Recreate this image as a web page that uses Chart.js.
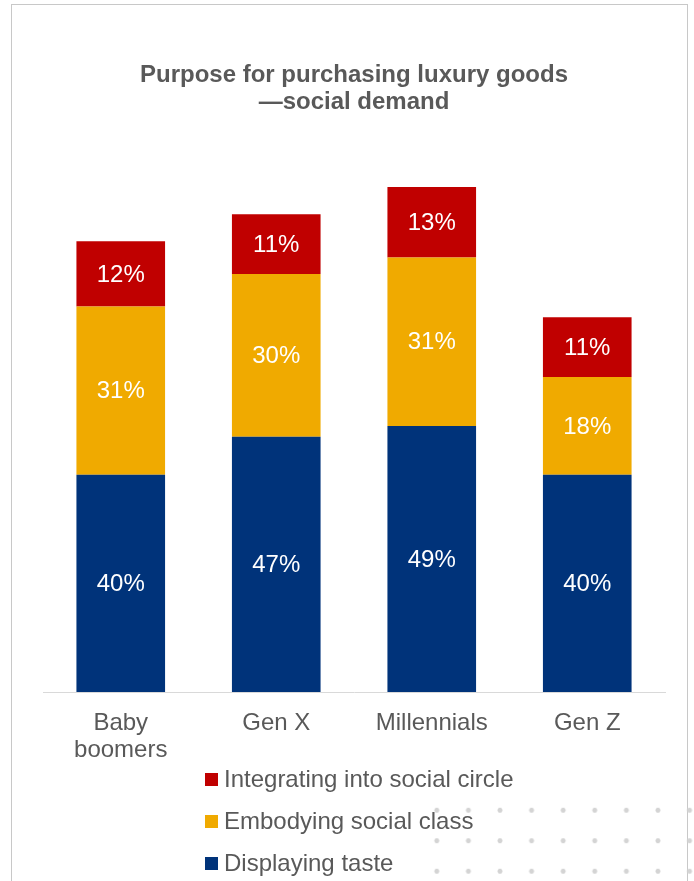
<!DOCTYPE html>
<html>
<head>
<meta charset="utf-8">
<script src="https://cdn.jsdelivr.net/npm/chart.js@4"></script>
<style>
    body { margin: 0; background: #fff; font-family: 'Liberation Sans', Arial, sans-serif; }
    #wrap { position: relative; width: 694px; height: 881px; overflow: hidden; }
    #frame { position: absolute; left: 11px; top: 4px; width: 675px; height: 900px; border: 1px solid #c8c8c8; }
    #dots {
        position: absolute; left: 421px; top: 795px; width: 290px; height: 92px;
        background-image: radial-gradient(circle, #d4d4d4 2.2px, transparent 2.8px);
        background-size: 31.6px 30.5px;
    }
    #chart { position: absolute; left: 0; top: 0; }
    #legend { position: absolute; left: 205px; top: 766px; }
    .legend-item { display: flex; align-items: center; height: 26px; margin-bottom: 16px; font-size: 24px; color: #595959; }
    .legend-box { width: 13px; height: 13px; margin-right: 6px; }
</style>
</head>
<body>
<div id="wrap">
    <div id="frame"></div>
    <div id="dots"></div>
    <canvas id="chart" width="694" height="881"></canvas>
    <div id="legend"></div>
</div>
<script>
const categories = [['Baby', 'boomers'], 'Gen X', 'Millennials', 'Gen Z'];
const displayingTaste = [40, 47, 49, 40];
const embodyingClass = [31, 30, 31, 18];
const integratingCircle = [12, 11, 13, 11];
const seriesNames = ['Displaying taste', 'Embodying social class', 'Integrating into social circle'];
const seriesColors = ['#00337a', '#f0aa00', '#c00000'];
const fontFamily = '"Liberation Sans", Arial, sans-serif';

// draws the percentage inside each bar segment
const valueLabels = {
    id: 'valueLabels',
    afterDatasetsDraw(chart) {
        let ctx = chart.ctx;
        ctx.save();
        ctx.font = '24px ' + fontFamily;
        ctx.fillStyle = '#ffffff';
        ctx.textAlign = 'center';
        ctx.textBaseline = 'middle';
        chart.data.datasets.forEach((ds, i) => {
            chart.getDatasetMeta(i).data.forEach((bar, j) => {
                ctx.fillText(ds.data[j] + '%', bar.x, (bar.y + bar.base) / 2 + 1);
            });
        });
        ctx.restore();
    }
};

const chart = new Chart(document.getElementById('chart'), {
    type: 'bar',
    data: {
        labels: categories,
        datasets: [displayingTaste, embodyingClass, integratingCircle].map((values, i) => ({
            label: seriesNames[i],
            data: values,
            backgroundColor: seriesColors[i],
            barPercentage: 0.57,
            categoryPercentage: 1
        }))
    },
    options: {
        responsive: false,
        animation: false,
        layout: {
            padding: { left: 43, right: 29, top: 0, bottom: 99 }
        },
        plugins: {
            legend: { display: false },
            tooltip: { enabled: false },
            title: {
                display: true,
                text: ['Purpose for purchasing luxury goods', '\u2014social demand'],
                color: '#595959',
                font: { family: fontFamily, size: 24, weight: 'bold', lineHeight: 1.125 },
                padding: { top: 62, bottom: 33 }
            }
        },
        scales: {
            x: {
                stacked: true,
                grid: { display: false, drawTicks: false },
                border: { display: true, color: '#d9d9d9', width: 1 },
                ticks: {
                    color: '#595959',
                    padding: 18,
                    font: { family: fontFamily, size: 24, lineHeight: 1.125 }
                }
            },
            y: {
                stacked: true,
                display: false,
                min: 0,
                max: 100
            }
        }
    },
    plugins: [valueLabels]
});

// legend listed top to bottom in reverse stack order
let legendHtml = '';
chart.data.datasets.slice().reverse().forEach(ds => {
    legendHtml += '<div class="legend-item"><span class="legend-box" style="background:' + ds.backgroundColor + '"></span>' + ds.label + '</div>';
});
document.getElementById('legend').innerHTML = legendHtml;
</script>
</body>
</html>
